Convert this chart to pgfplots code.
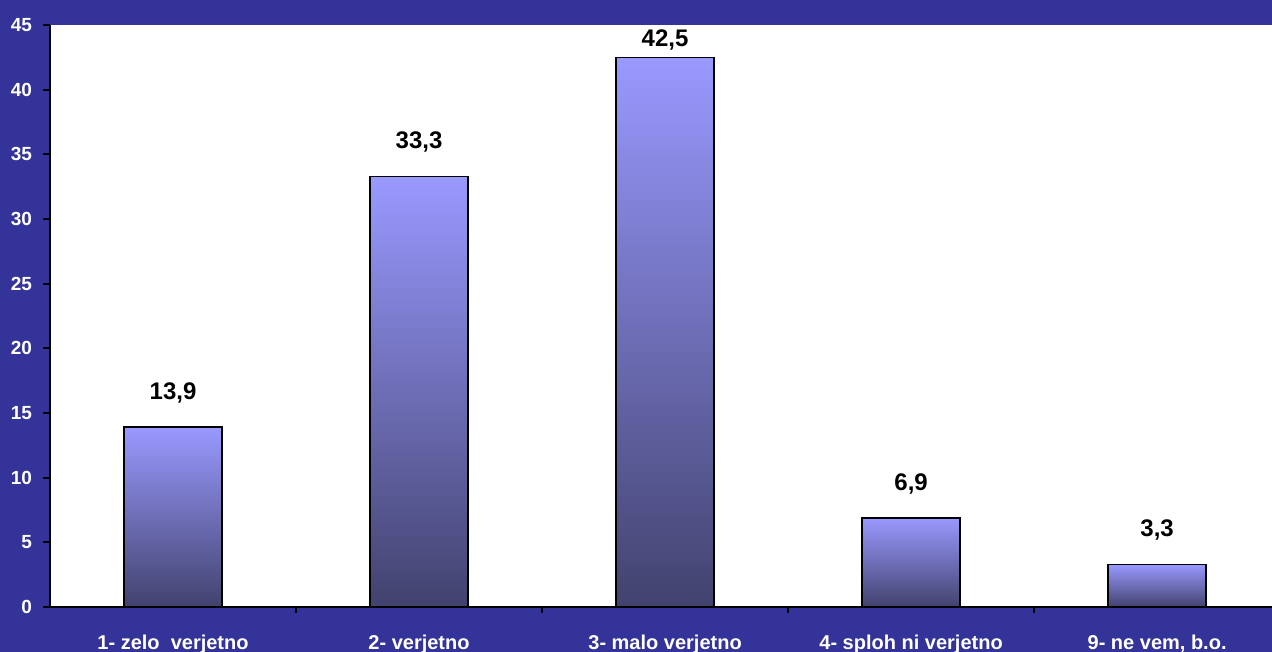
\documentclass[border=0pt]{standalone}
\usepackage{pgfplots}
\pgfplotsset{compat=1.18}
\usepackage{fontspec}
\setmainfont{Liberation Sans}

\definecolor{frame}{RGB}{51,51,153}
\definecolor{bartop}{RGB}{153,153,255}
\definecolor{barmid}{RGB}{115,115,200}
\definecolor{barbot}{RGB}{66,66,110}

\pgfplotsset{
  shadedbar/.style={draw=black, line width=0.8pt, top color=bartop, middle color=barmid, bottom color=barbot,
    every node near coord/.append style={yshift=#1}},
  shadedbar/.default=17pt,
}

\begin{document}
\begin{tikzpicture}
% blue chart area behind the white plot area
\fill[frame] (0,0) rectangle (636pt,326pt);
\useasboundingbox (0,0) rectangle (636pt,326pt);

\begin{axis}[
at={(25pt,22.5pt)}, anchor=south west,
width=611pt, height=291pt, scale only axis,
xmin=0.5, xmax=5.467,
ymin=0, ymax=45,
ytick={0,5,...,45},
xtick={1,2,3,4,5},
xticklabels={1- zelo\ \ verjetno, 2- verjetno, 3- malo verjetno, 4- sploh ni verjetno, {9- ne vem, b.o.}},
minor xtick={1.5,2.5,3.5,4.5},
axis x line*=bottom, axis y line*=left,
axis line style={black, line width=1pt},
axis background/.style={fill=white},
tick align=outside,
major tick length=3.5pt, minor tick length=3pt,
major x tick style={draw=none},
minor x tick style={black, line width=1pt},
ytick style={black, line width=1pt},
/pgf/number format/assume math mode=true,
tick label style={white, font=\bfseries},
yticklabel style={font=\fontsize{9.5}{10}\selectfont\bfseries, xshift=-2pt},
xticklabel style={font=\fontsize{10}{12}\selectfont\bfseries, yshift=-7pt},
ybar, bar width=49pt, bar shift=0pt,
nodes near coords,
every node near coord/.append style={black, anchor=center,
  font=\fontsize{12}{14}\selectfont\bfseries,
  /pgf/number format/fixed, /pgf/number format/fixed zerofill,
  /pgf/number format/precision=1, /pgf/number format/use comma,
  /pgf/number format/assume math mode=true},
clip=false,
]
\addplot[shadedbar] coordinates {(1,13.9)};
\addplot[shadedbar] coordinates {(2,33.3)};
\addplot[shadedbar=8.5pt] coordinates {(3,42.5)};
\addplot[shadedbar] coordinates {(4,6.9)};
\addplot[shadedbar] coordinates {(5,3.3)};
\end{axis}
\end{tikzpicture}
\end{document}
